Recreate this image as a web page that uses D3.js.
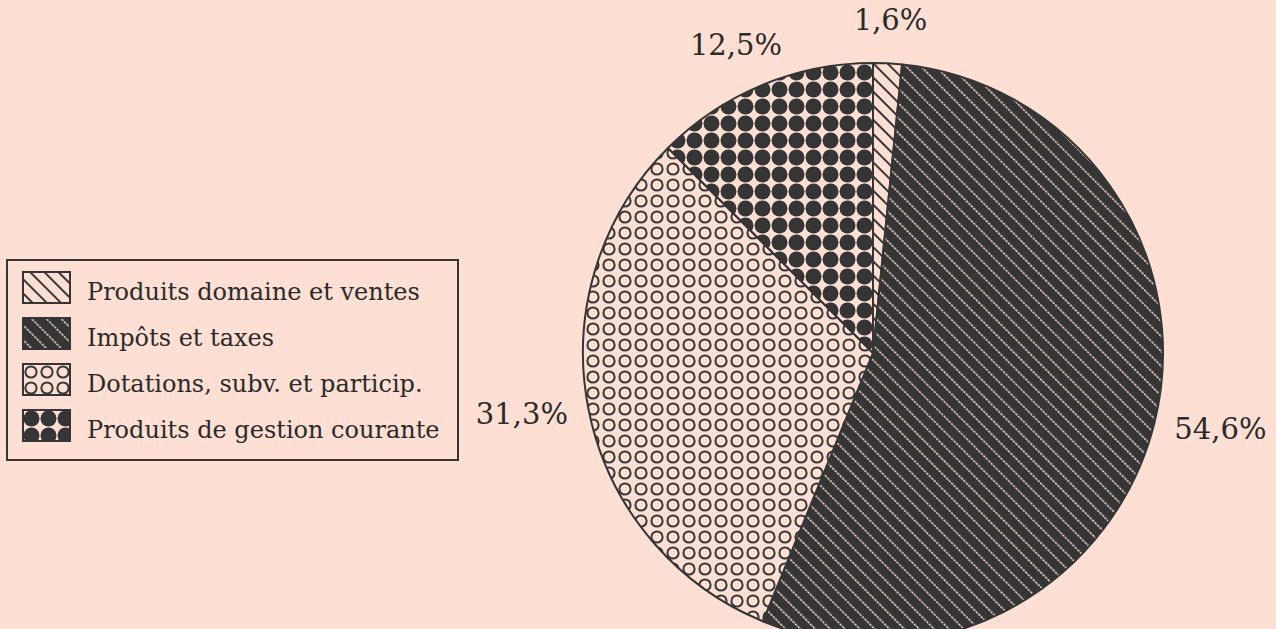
<!DOCTYPE html>
<html>
<head>
<meta charset="utf-8">
<script src="https://cdn.jsdelivr.net/npm/d3@7"></script>
<style>
  body { margin: 0; background: #fddfd3; }
  svg { display: block; }
</style>
</head>
<body>
<div id="chart"></div>
<script>
// data
const categories = ["Produits domaine et ventes", "Impôts et taxes", "Dotations, subv. et particip.", "Produits de gestion courante"];
const shares = [1.6, 54.6, 31.3, 12.5];
const shareLabels = ["1,6%", "54,6%", "31,3%", "12,5%"];
const patternIds = ["pat-domaine", "pat-impots", "pat-dotations", "pat-gestion"];

const width = 1276, height = 629;
const bg = "#fddfd3", ink = "#353535";

const svg = d3.select("#chart")
  .append("svg")
    .attr("width", width)
    .attr("height", height)
    .style("font-family", "'DejaVu Serif', serif");

svg.append("rect").attr("width", width).attr("height", height).attr("fill", bg);

// fill patterns
const defs = svg.append("defs");

// dark diagonals on the pink paper
const pDom = defs.append("pattern")
  .attr("id", patternIds[0]).attr("patternUnits", "userSpaceOnUse")
  .attr("width", 10).attr("height", 10)
  .attr("patternTransform", "rotate(45)");
pDom.append("rect").attr("width", 10).attr("height", 10).attr("fill", bg);
pDom.append("line").attr("x1", 0).attr("x2", 10).attr("y1", 5).attr("y2", 5)
  .attr("stroke", ink).attr("stroke-width", 2);

// dark ground with dotted pale diagonals
const pImp = defs.append("pattern")
  .attr("id", patternIds[1]).attr("patternUnits", "userSpaceOnUse")
  .attr("width", 10.5).attr("height", 10.5)
  .attr("patternTransform", "rotate(45)");
pImp.append("rect").attr("width", 10.5).attr("height", 10.5).attr("fill", ink);
pImp.append("line").attr("x1", 0).attr("x2", 10.5).attr("y1", 5).attr("y2", 5)
  .attr("stroke", bg).attr("stroke-width", 1.3).attr("stroke-dasharray", "2.5 1");

// rings
const pDot = defs.append("pattern")
  .attr("id", patternIds[2]).attr("patternUnits", "userSpaceOnUse")
  .attr("width", 16).attr("height", 16);
pDot.append("rect").attr("width", 16).attr("height", 16).attr("fill", bg);
pDot.append("circle").attr("cx", 8).attr("cy", 8).attr("r", 5.6)
  .attr("fill", "none").attr("stroke", ink).attr("stroke-width", 2);

// big dark dots
const pGes = defs.append("pattern")
  .attr("id", patternIds[3]).attr("patternUnits", "userSpaceOnUse")
  .attr("width", 17).attr("height", 17);
pGes.append("rect").attr("width", 17).attr("height", 17).attr("fill", bg);
pGes.append("circle").attr("cx", 8.5).attr("cy", 8.5).attr("r", 8)
  .attr("fill", ink);

// pie
const cx = 873, cy = 353, radius = 290;
const labelGap = 22;

const pie = d3.pie().sort(null).value(d => d.value);
const arcs = pie(shares.map((v, i) => ({ value: v, i: i })));

const arc = d3.arc().innerRadius(0).outerRadius(radius);

const g = svg.append("g").attr("transform", `translate(${cx}, ${cy})`);

g.selectAll("path.slice")
  .data(arcs)
  .join("path")
    .attr("class", "slice")
    .attr("d", arc)
    .attr("fill", d => `url(#${patternIds[d.data.i]})`)
    .attr("stroke", ink)
    .attr("stroke-width", 2)
    .attr("stroke-linejoin", "round");

// labels: the text box is pushed out from the rim along the middle angle
const pct = g.selectAll("text.pct")
  .data(arcs)
  .join("text")
    .attr("class", "pct")
    .attr("text-anchor", "middle")
    .attr("dy", "0.2em")
    .style("font-size", "29px")
    .style("fill", "#2a2a2a")
    .text(d => shareLabels[d.data.i]);

pct.each(function(d) {
  const a = (d.startAngle + d.endAngle) / 2;
  const ux = Math.sin(a), uy = -Math.cos(a);
  const box = this.getBBox();
  const x = ux * (radius + labelGap) + ux * box.width / 2;
  const y = uy * (radius + labelGap) + uy * box.height / 2;
  d3.select(this).attr("transform", `translate(${x}, ${y})`);
});

// legend
const legend = svg.append("g").attr("transform", "translate(7, 260)");
legend.append("rect")
  .attr("width", 451).attr("height", 200)
  .attr("fill", "none").attr("stroke", ink).attr("stroke-width", 2);

const rows = legend.selectAll("g.row")
  .data(categories)
  .join("g")
    .attr("class", "row")
    .attr("transform", (d, i) => `translate(16, ${12 + i * 46})`);

rows.append("rect")
  .attr("width", 47).attr("height", 31)
  .attr("fill", (d, i) => `url(#${patternIds[i]})`)
  .attr("stroke", ink).attr("stroke-width", 2);

rows.append("text")
  .attr("x", 64).attr("y", 28)
  .style("font-size", "24px")
  .style("fill", "#2a2a2a")
  .text(d => d);
</script>
</body>
</html>
